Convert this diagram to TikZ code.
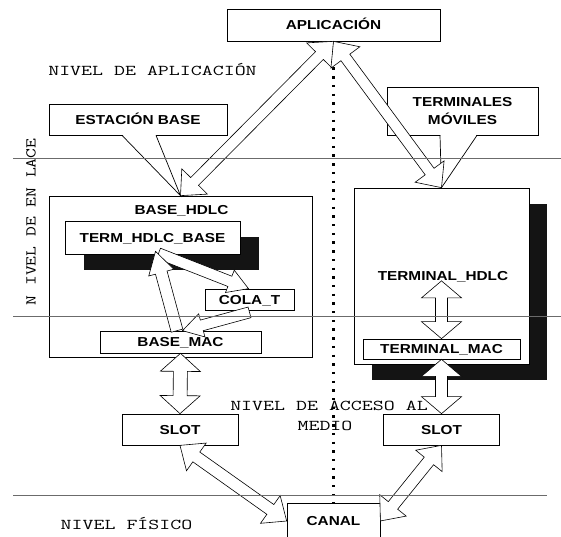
\documentclass[tikz,border=0pt]{standalone}
\usepackage{fontspec}
\setmainfont{Liberation Sans}
\usepackage{graphicx}
\usetikzlibrary{calc,shadows}
\definecolor{linegray}{gray}{0.42}
\newcommand{\bx}[1]{\scalebox{1.18}[1]{#1}}
\newcommand{\mx}[1]{\scalebox{1.42}[1]{#1}}
% hollow block arrow: #1 from, #2 to, #3 half shaft, #4 half head, #5 head length, #6 1=double 0=single
\newcommand{\blockarrow}[6]{%
  \path let \p1=($(#2)-(#1)$) in \pgfextra{%
    \pgfmathsetmacro\BAlen{veclen(\x1,\y1)}%
    \pgfmathsetmacro\BAang{atan2(\y1,\x1)}%
    \global\let\BAlen\BAlen \global\let\BAang\BAang};
  \pgfmathsetmacro\BAb{\BAlen-#5}%
  \begin{scope}[shift={(#1)}, rotate=\BAang, x=1pt, y=1pt]
    \ifnum#6=1
      \draw[arr] (0,0) -- (#5,#4) -- (#5,#3) -- (\BAb,#3) -- (\BAb,#4) -- (\BAlen,0)
        -- (\BAb,-#4) -- (\BAb,-#3) -- (#5,-#3) -- (#5,-#4) -- cycle;
    \else
      \draw[arr] (0,#3) -- (\BAb,#3) -- (\BAb,#4) -- (\BAlen,0)
        -- (\BAb,-#4) -- (\BAb,-#3) -- (0,-#3) -- cycle;
    \fi
  \end{scope}}
\begin{document}
\begin{tikzpicture}[x=1pt,y=-1pt,
  box/.style={draw, fill=white, line width=0.7pt, inner sep=0pt,
    font=\fontsize{13}{18}\selectfont\bfseries, text height=9.3pt, text depth=0pt},
  lbl/.style={inner sep=0pt, font=\fontsize{13}{18}\selectfont\bfseries,
    text height=9.3pt, text depth=0pt},
  mono/.style={inner sep=0pt, font=\fontsize{15}{18}\selectfont\ttfamily, anchor=base},
  arr/.style={draw, fill=white, line width=0.6pt, line join=miter},
  shad/.style={drop shadow={shadow xshift=#1, shadow yshift=-16pt, opacity=1, fill=black!92}},
  sep/.style={draw=linegray, line width=0.9pt},
  pointer/.style={line width=0.7pt}]

\useasboundingbox (0,0) rectangle (561,536);
\clip (0,0) rectangle (561,536);

% level labels
\node[mono] (napl) at (152.5,75) {\mx{NIVEL DE APLICACIÓN}};
\node[mono, rotate=90, anchor=center] (nenl) at (31,222) {\scalebox{1.27}[1]{N IVEL DE EN LACE}};
\node[mono] (nacc) at (329,410) {\mx{NIVEL DE ACCESO AL}};
\node[mono] (nmed) at (325,430) {\mx{MEDIO}};
\node[mono] (nfis) at (126.5,529) {\mx{NIVEL FÍSICO}};

% boxes
\node[box, minimum width=213pt, minimum height=32pt] (aplic) at (333.5,25) {\bx{APLICACIÓN}};
\node[box, minimum width=93pt, minimum height=36pt] (canal) at (333.5,521) {\bx{CANAL}};

% dotted separator
\draw[line width=2.2pt, dash pattern=on 2.4pt off 6.3pt] (aplic.south) -- (canal.north);

\node[box, minimum width=263pt, minimum height=161pt] (basehdlc) at (180.5,276.5) {};
\node[lbl] (basehdlcl) at (181.5,210) {\bx{BASE\_HDLC}};
\node[box, shad=19pt, minimum width=175pt, minimum height=33pt] (termhdlcbase) at (152.5,237.5) {\bx{TERM\_HDLC\_BASE}};
\node[box, minimum width=89pt, minimum height=21pt] (colat) at (249.5,299.5) {\bx{COLA\_T}};
\node[box, minimum width=161pt, minimum height=22pt] (basemac) at (180.5,342) {\bx{BASE\_MAC}};

\node[box, shad=18pt, minimum width=175pt, minimum height=176pt] (terminal) at (441.5,276) {};
\node[lbl] (terminall) at (443,276) {\bx{TERMINAL\_HDLC}};
\node[box, minimum width=157pt, minimum height=20pt] (termmac) at (441.5,349) {\bx{TERMINAL\_MAC}};

\node[box, minimum width=116pt, minimum height=31pt] (slotl) at (180,429.5) {\bx{SLOT}};
\node[box, minimum width=116pt, minimum height=31pt] (slotr) at (441.5,429.5) {\bx{SLOT}};

% callouts
\node[box, minimum width=178pt, minimum height=31pt] (estacion) at (138,119.5) {\bx{ESTACIÓN BASE}};
\fill[white] ([xshift=-15.6pt,yshift=0.6pt]estacion.south) -- (basehdlc.north) -- ([xshift=17.6pt,yshift=0.6pt]estacion.south) -- cycle;
\draw[pointer] ([xshift=-16pt]estacion.south) -- (basehdlc.north) -- ([xshift=18pt]estacion.south);

\node[draw, fill=white, line width=0.7pt, inner sep=0pt, minimum width=151pt, minimum height=48pt,
  align=center, font=\fontsize{13}{18}\selectfont\bfseries] (termov) at (462.5,111) {\bx{TERMINALES}\\\bx{MÓVILES}};
\fill[white] ([xshift=-22.1pt,yshift=0.6pt]termov.south) -- (terminal.north) -- ([xshift=14.1pt,yshift=0.6pt]termov.south) -- cycle;
\draw[pointer] ([xshift=-22.5pt]termov.south) -- (terminal.north) -- ([xshift=14.5pt]termov.south);

% connectors
\blockarrow{aplic.south}{basehdlc.north}{5.5}{18}{20}{1}
\blockarrow{aplic.south}{terminal.north}{5.5}{18}{20}{1}

\coordinate (aT) at ([xshift=3pt,yshift=3pt]termhdlcbase.south);
\coordinate (aB) at ([xshift=-3.5pt]basemac.north);
\coordinate (bS) at ([xshift=6pt,yshift=1pt]termhdlcbase.south);
\coordinate (bE) at ([xshift=-1pt]colat.north);
\coordinate (cS) at ([yshift=-2pt]colat.south);
\coordinate (cE) at ([xshift=2pt]basemac.north);
\blockarrow{cS}{cE}{5.5}{12}{20}{0}
\blockarrow{bS}{bE}{5.5}{12}{20}{0}
\blockarrow{aB}{aT}{6}{13}{22}{0}

\blockarrow{basemac.south}{slotl.north}{7}{20}{18}{1}
\coordinate (thl) at (terminall.south -| termmac.north);
\blockarrow{thl}{termmac.north}{6}{20}{17}{1}
\blockarrow{termmac.south}{slotr.north}{6}{20}{17}{1}
\blockarrow{slotl.south}{canal.west}{6}{17}{20}{1}
\blockarrow{slotr.south}{canal.east}{6}{17}{20}{1}

% level separators
\draw[sep] (13,158) -- (561,158);
\draw[sep] (13,316) -- (561,316);
\draw[sep] (13,495) -- (547,495);
\end{tikzpicture}
\end{document}
